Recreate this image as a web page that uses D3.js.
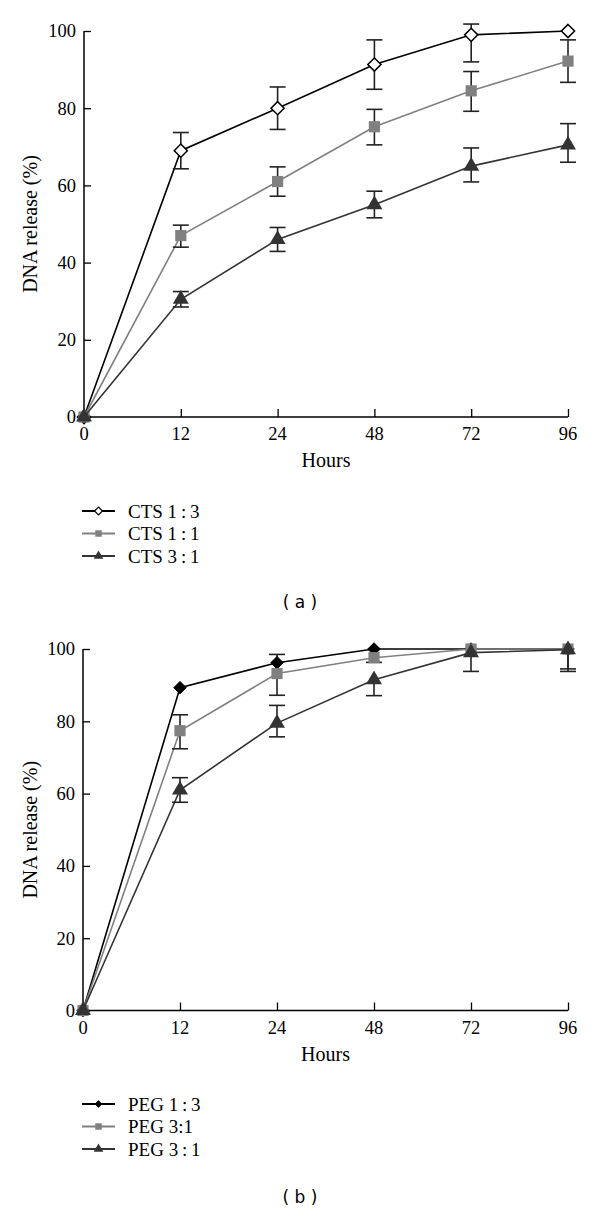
<!DOCTYPE html>
<html><head><meta charset="utf-8">
<script src="https://cdn.jsdelivr.net/npm/d3@7"></script>
<style>body{margin:0;background:#fff}svg{display:block}</style>
</head><body>
<svg id="c" width="600" height="1212"></svg>
<script>
const hours = ["0","12","24","48","72","96"];
const yTicks = [0,20,40,60,80,100];

// Panel (a)
const cts13 = [0, 69, 80, 91.3, 99, 100];
const cts13Lo = [0, 4.7, 5.5, 6.4, 7, 0];
const cts13Hi = [0, 4.7, 5.5, 6.4, 2.8, 0];
const cts11 = [0, 47, 61, 75.2, 84.5, 92.2];
const cts11Lo = [0, 3, 3.8, 4.7, 5.3, 5.5];
const cts11Hi = [0, 2.7, 3.8, 4.5, 5, 5.5];
const cts31 = [0, 30.5, 46, 55, 65, 70.5];
const cts31Lo = [0, 2, 3.1, 3.4, 4.1, 4.5];
const cts31Hi = [0, 2, 3.1, 3.5, 4.7, 5.5];
const legendA = ["CTS 1\u2009:\u20093", "CTS 1\u2009:\u20091", "CTS 3\u2009:\u20091"];

// Panel (b)
const peg13 = [0, 89.3, 96.2, 100, 100, 100];
const peg13Lo = [0, 0, 0, 0, 0, 0];
const peg13Hi = [0, 0, 2.3, 0, 0, 0];
const peg31a = [0, 77.4, 93.2, 97.6, 100, 100];
const peg31aLo = [0, 5, 6, 1.3, 0, 5.5];
const peg31aHi = [0, 4.4, 0, 0, 0, 0];
const peg31b = [0, 61, 79.5, 91.5, 99, 99.8];
const peg31bLo = [0, 3.4, 3.8, 4.4, 5.2, 6];
const peg31bHi = [0, 3.4, 4.9, 0, 0, 0];
const legendB = ["PEG 1\u2009:\u20093", "PEG 3:1", "PEG 3\u2009:\u20091"];

const svg = d3.select("#c");
const serif = "'Liberation Serif','Times New Roman',serif";

function panel(cfg) {
  const x = d3.scalePoint().domain(hours).range([cfg.x0, cfg.x1]);
  const y = d3.scaleLinear().domain([0,100]).range([cfg.yb, cfg.yt]);
  const g = svg.append("g");

  const xa = g.append("g").attr("transform", `translate(0,${cfg.yb})`)
    .call(d3.axisTop(x).tickSize(8).tickFormat(""));
  xa.select(".domain").attr("d", `M${cfg.x0},0H${cfg.x1}`).attr("stroke","#000").attr("stroke-width",1.5);
  xa.selectAll(".tick line").attr("stroke","#000").attr("stroke-width",1.3);
  hours.forEach(h => g.append("text").attr("x", x(h)).attr("y", cfg.yb + 23)
    .attr("text-anchor","middle").attr("font-family",serif).attr("font-size",18.5).text(h));

  const ya = g.append("g").attr("transform", `translate(${cfg.x0},0)`)
    .call(d3.axisRight(y).tickValues(yTicks).tickSize(7).tickFormat(""));
  ya.select(".domain").attr("d", `M0,${cfg.yb}V${cfg.yt}`).attr("stroke","#000").attr("stroke-width",1.5);
  ya.selectAll(".tick line").attr("stroke","#000").attr("stroke-width",1.3);
  yTicks.forEach(v => g.append("text").attr("x", cfg.x0 - 8).attr("y", y(v)).attr("dy","0.35em")
    .attr("text-anchor","end").attr("font-family",serif).attr("font-size",18.5).text(v));

  g.append("text").attr("transform", `translate(37,${(cfg.yb+cfg.yt)/2}) rotate(-90)`)
    .attr("text-anchor","middle").attr("font-family",serif).attr("font-size",20).text("DNA release (%)");
  g.append("text").attr("x", (cfg.x0+cfg.x1)/2).attr("y", cfg.yb + 50)
    .attr("text-anchor","middle").attr("font-family",serif).attr("font-size",20).text("Hours");

  const line = d3.line().x((d,i)=>x(hours[i])).y(d=>y(d));
  cfg.series.forEach(s => {
    g.append("path").datum(s.values).attr("d", line).attr("fill","none")
      .attr("stroke", s.line).attr("stroke-width", s.lw);
    s.values.forEach((v,i) => {
      const lo = s.lo[i], hi = s.hi[i];
      const cx = x(hours[i]);
      const eg = g.append("g").attr("stroke","#222").attr("stroke-width",1.6);
      if (lo) {
        eg.append("line").attr("x1",cx).attr("x2",cx).attr("y1",y(v)).attr("y2",y(v-lo));
        eg.append("line").attr("x1",cx-8).attr("x2",cx+8).attr("y1",y(v-lo)).attr("y2",y(v-lo));
      }
      if (hi) {
        eg.append("line").attr("x1",cx).attr("x2",cx).attr("y1",y(v)).attr("y2",y(v+hi));
        eg.append("line").attr("x1",cx-8).attr("x2",cx+8).attr("y1",y(v+hi)).attr("y2",y(v+hi));
      }
    });
    s.values.forEach((v,i) => {
      g.append("path").attr("transform", `translate(${x(hours[i])},${y(v)})`)
        .attr("d", d3.symbol().type(s.sym).size(s.size)())
        .attr("fill", s.fill).attr("stroke", s.stroke).attr("stroke-width", s.sw);
    });
  });

  cfg.legend.forEach((t,i) => {
    const s = cfg.series[i];
    const ly = cfg.ly + i*22.5;
    g.append("line").attr("x1",82).attr("x2",115).attr("y1",ly).attr("y2",ly)
      .attr("stroke", s.line).attr("stroke-width", 2);
    g.append("path").attr("transform", `translate(98.5,${ly})`)
      .attr("d", d3.symbol().type(s.sym).size(s.lsize)())
      .attr("fill", s.fill).attr("stroke", s.stroke).attr("stroke-width", s.sw*0.8);
    g.append("text").attr("x",128).attr("y",ly).attr("dy","0.35em")
      .attr("font-family",serif).attr("font-size",19).text(t);
  });
  g.append("text").attr("x",300).attr("y",cfg.cap).attr("dy","0.35em").attr("text-anchor","middle")
    .attr("font-family","'DejaVu Sans',sans-serif").attr("font-size",17).text(cfg.capText);
}

panel({
  x0:84, x1:568, yb:417, yt:31, ly:511, cap:602, capText:"( a )",
  legend: legendA,
  series: [
    {values:cts13, lo:cts13Lo, hi:cts13Hi, line:"#000", lw:1.6, sym:d3.symbolDiamond2, size:110, lsize:40, fill:"#fff", stroke:"#000", sw:1.5},
    {values:cts11, lo:cts11Lo, hi:cts11Hi, line:"#808080", lw:1.6, sym:d3.symbolSquare, size:125, lsize:42, fill:"#808080", stroke:"none", sw:0},
    {values:cts31, lo:cts31Lo, hi:cts31Hi, line:"#333", lw:1.6, sym:d3.symbolTriangle, size:110, lsize:40, fill:"#333", stroke:"none", sw:0}
  ]
});

panel({
  x0:83, x1:568, yb:1010.5, yt:649, ly:1104, cap:1197, capText:"( b )",
  legend: legendB,
  series: [
    {values:peg13, lo:peg13Lo, hi:peg13Hi, line:"#000", lw:1.6, sym:d3.symbolDiamond2, size:100, lsize:30, fill:"#000", stroke:"#000", sw:1},
    {values:peg31a, lo:peg31aLo, hi:peg31aHi, line:"#808080", lw:1.6, sym:d3.symbolSquare, size:125, lsize:42, fill:"#808080", stroke:"none", sw:0},
    {values:peg31b, lo:peg31bLo, hi:peg31bHi, line:"#333", lw:1.6, sym:d3.symbolTriangle, size:110, lsize:40, fill:"#333", stroke:"none", sw:0}
  ]
});
</script>
</body></html>
